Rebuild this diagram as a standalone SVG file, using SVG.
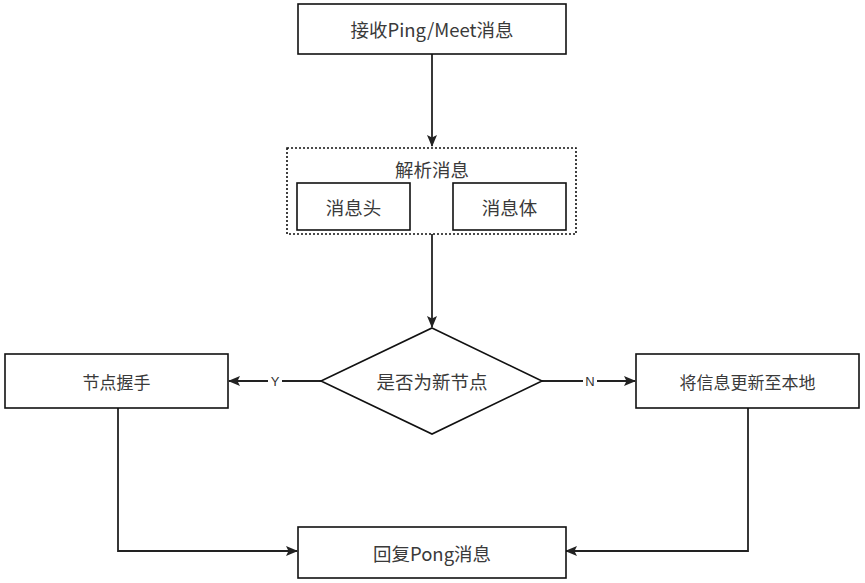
<svg xmlns="http://www.w3.org/2000/svg" width="865" height="583" viewBox="0 0 865 583">
<defs>
<style>
.box{fill:#fff;stroke:#111;stroke-width:1.6}
.t{font-family:"Microsoft YaHei","Noto Sans CJK SC",sans-serif;fill:#3a3a3a;text-anchor:middle;dominant-baseline:central}
.lg{font-size:18.5px}
.md{font-size:17px}
.edge{fill:none;stroke:#222;stroke-width:1.8}
.lbl{font-family:"Liberation Sans",sans-serif;font-size:13px;fill:#333;text-anchor:middle;dominant-baseline:central}
</style>
<marker id="arr" markerWidth="12" markerHeight="12" refX="11" refY="6" orient="auto" markerUnits="userSpaceOnUse">
<path d="M0,1 L12,6 L0,11 L2.5,6 Z" fill="#222"/>
</marker>
</defs>
<rect width="865" height="583" fill="#fff"/>
<g id="connectors">
<path class="edge" d="M432,54 V146" marker-end="url(#arr)"/>
<path class="edge" d="M432,234 V327" marker-end="url(#arr)"/>
<path class="edge" d="M321,381 H229" marker-end="url(#arr)"/>
<path class="edge" d="M542,381 H635" marker-end="url(#arr)"/>
<path class="edge" d="M118,408 V551 H297" marker-end="url(#arr)"/>
<path class="edge" d="M748,408 V551 H566" marker-end="url(#arr)"/>
<rect x="268" y="373" width="14" height="16" fill="#fff"/>
<text class="lbl" x="275" y="381">Y</text>
<rect x="583" y="373" width="14" height="16" fill="#fff"/>
<text class="lbl" x="590" y="381">N</text>
</g>
<g id="receive">
<rect class="box" x="298" y="4" width="268" height="50"/>
<text class="t lg" x="432" y="29">接收Ping/Meet消息</text>
</g>
<g id="parse">
<rect x="287" y="148" width="289" height="86" fill="none" stroke="#111" stroke-width="1.6" stroke-dasharray="2,2"/>
<text class="t lg" x="432" y="169">解析消息</text>
</g>
<g id="header">
<rect class="box" x="297" y="183" width="113" height="47"/>
<text class="t lg" x="353.5" y="207">消息头</text>
</g>
<g id="body">
<rect class="box" x="453" y="183" width="113" height="47"/>
<text class="t lg" x="509.5" y="207">消息体</text>
</g>
<g id="decision">
<polygon class="box" points="432,328 542,381 432,434 321,381"/>
<text class="t lg" x="432" y="381">是否为新节点</text>
</g>
<g id="handshake">
<rect class="box" x="5" y="354" width="223" height="54"/>
<text class="t md" x="116.5" y="381">节点握手</text>
</g>
<g id="update">
<rect class="box" x="636" y="354" width="223" height="54"/>
<text class="t md" x="747.5" y="381">将信息更新至本地</text>
</g>
<g id="pong">
<rect class="box" x="298" y="527" width="268" height="51"/>
<text class="t lg" x="432" y="552.5">回复Pong消息</text>
</g>
</svg>
